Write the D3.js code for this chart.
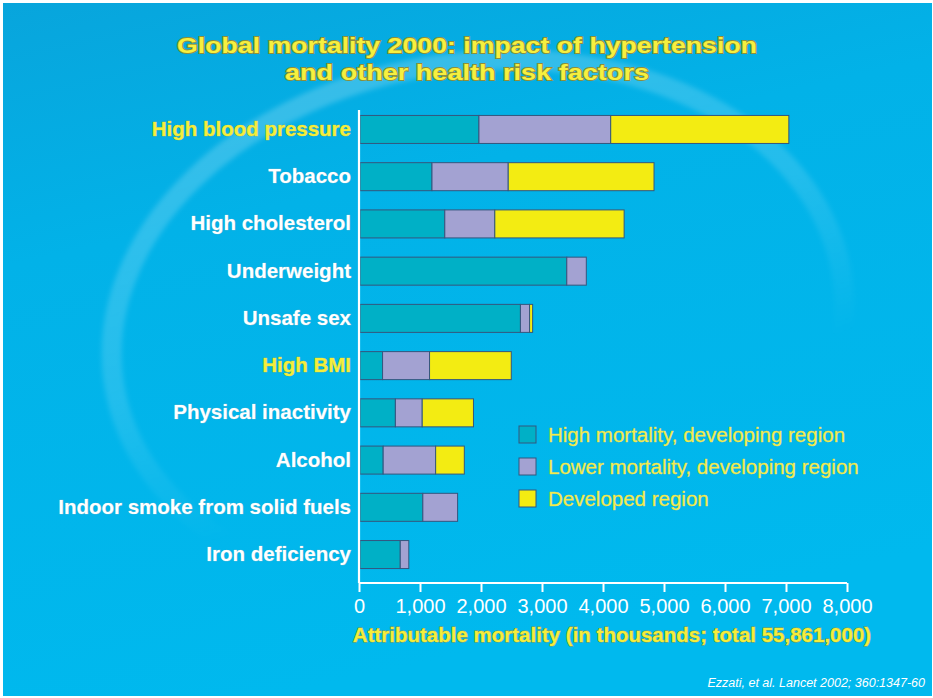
<!DOCTYPE html>
<html>
<head>
<meta charset="utf-8">
<script src="https://cdn.jsdelivr.net/npm/d3@7"></script>
<style>
  html, body { margin: 0; padding: 0; background: #ffffff; }
  svg { display: block; }
  text { font-family: "Liberation Sans", Arial, sans-serif; }
</style>
</head>
<body>
<svg id="chart" width="933" height="698"></svg>
<script>
// ---------- data ----------
const categories = [
  "High blood pressure", "Tobacco", "High cholesterol", "Underweight", "Unsafe sex",
  "High BMI", "Physical inactivity", "Alcohol", "Indoor smoke from solid fuels", "Iron deficiency"
];
const highMortalityDeveloping  = [1950, 1180, 1390, 3390, 2630, 370, 580, 380, 1030, 660];
const lowerMortalityDeveloping = [2160, 1250,  820,  320,  150, 770, 440, 860,  570, 140];
const developedRegion          = [2920, 2390, 2120,    0,   50, 1340, 840, 470,   0,   0];
const seriesNames = ["High mortality, developing region", "Lower mortality, developing region", "Developed region"];
const highlighted = ["High blood pressure", "High BMI"];
const xTicks = [0, 1000, 2000, 3000, 4000, 5000, 6000, 7000, 8000];
const titleLines = ["Global mortality 2000: impact of hypertension", "and other health risk factors"];
const xAxisTitle = "Attributable mortality (in thousands; total 55,861,000)";
const sourceNote = "Ezzati, et al. Lancet 2002; 360:1347-60";

// ---------- setup ----------
const W = 933, H = 698;
const svg = d3.select("#chart");
const defs = svg.append("defs");

const bg = defs.append("linearGradient").attr("id", "bg").attr("x1", 0).attr("y1", 0).attr("x2", 0.3).attr("y2", 1);
bg.append("stop").attr("offset", "0%").attr("stop-color", "#08a5dc");
bg.append("stop").attr("offset", "35%").attr("stop-color", "#02b2e8");
bg.append("stop").attr("offset", "100%").attr("stop-color", "#00b9ee");

const ringGrad = defs.append("linearGradient").attr("id", "ring").attr("x1", 0).attr("y1", 0).attr("x2", 0.25).attr("y2", 1);
ringGrad.append("stop").attr("offset", "0%").attr("stop-color", "#ffffff").attr("stop-opacity", 0.22);
ringGrad.append("stop").attr("offset", "50%").attr("stop-color", "#ffffff").attr("stop-opacity", 0.13);
ringGrad.append("stop").attr("offset", "80%").attr("stop-color", "#ffffff").attr("stop-opacity", 0.0);

const blur = defs.append("filter").attr("id", "blur").attr("x", "-10%").attr("y", "-10%").attr("width", "120%").attr("height", "120%");
blur.append("feGaussianBlur").attr("stdDeviation", 2.5);

// frame + background
svg.append("rect").attr("width", W).attr("height", H).attr("fill", "#ffffff");
svg.append("rect").attr("x", 3).attr("y", 3).attr("width", W - 4).attr("height", H - 5).attr("fill", "url(#bg)");

// decorative swoosh ring
svg.append("ellipse")
  .attr("cx", 478).attr("cy", 330).attr("rx", 368).attr("ry", 268)
  .attr("transform", "rotate(-8 478 330)")
  .attr("fill", "none").attr("stroke", "url(#ring)").attr("stroke-width", 20)
  .attr("filter", "url(#blur)");

// ---------- scales ----------
const x = d3.scaleLinear().domain([0, 8000]).range([359, 847]);
const y = d3.scaleBand().domain(categories).range([106, 578]).paddingInner(0.407).paddingOuter(0.2);
const colors = ["#00b0c6", "#a3a2d2", "#f3ec12"];

const rows = categories.map((c, i) => ({
  cat: c, s0: highMortalityDeveloping[i], s1: lowerMortalityDeveloping[i], s2: developedRegion[i]
}));
const stack = d3.stack().keys(["s0", "s1", "s2"])(rows);

// ---------- bars ----------
const gBars = svg.append("g");
stack.forEach((layer, li) => {
  gBars.selectAll(null).data(layer.filter(d => d[1] - d[0] > 0)).join("rect")
    .attr("x", d => x(d[0]) + 1)
    .attr("y", d => y(d.data.cat))
    .attr("width", d => Math.max(1, x(d[1]) - x(d[0])))
    .attr("height", y.bandwidth())
    .attr("fill", colors[li])
    .attr("stroke", "#34567e")
    .attr("stroke-width", 1);
});

// ---------- axes ----------
const axisG = svg.append("g").attr("transform", "translate(0,583)");
const xAxis = d3.axisBottom(x).tickValues(xTicks).tickSize(9).tickPadding(7)
  .tickFormat(d3.format(","));
axisG.call(xAxis);
axisG.select(".domain").attr("stroke", "#ffffff").attr("stroke-width", 2.2).attr("d", "M359,0H847");
axisG.selectAll(".tick line").attr("stroke", "#ffffff").attr("stroke-width", 2);
axisG.selectAll(".tick text").attr("fill", "#ffffff").attr("font-size", 20)
  .attr("font-family", "Liberation Sans, Arial, sans-serif");

const yAxisG = svg.append("g").attr("transform", "translate(359,0)");
yAxisG.call(d3.axisLeft(y).tickSize(0).tickPadding(8));
yAxisG.select(".domain").attr("stroke", "#ffffff").attr("stroke-width", 2.2).attr("d", "M0,110V583");
yAxisG.selectAll(".tick text")
  .attr("font-size", 20.5).attr("font-weight", "bold")
  .attr("font-family", "Liberation Sans, Arial, sans-serif")
  .attr("fill", d => highlighted.includes(d) ? "#f4ee3a" : "#ffffff")
  .attr("stroke", d => highlighted.includes(d) ? "#b9b43a" : "#7fb8cc")
  .attr("stroke-width", 0.6)
  .attr("paint-order", "stroke");

// ---------- title ----------
const titleWidths = [580, 364];
svg.append("g").selectAll("text").data(titleLines).join("text")
  .attr("x", 467).attr("y", (d, i) => 53 + i * 27)
  .attr("text-anchor", "middle")
  .attr("font-size", 22).attr("font-weight", "bold")
  .attr("textLength", (d, i) => titleWidths[i]).attr("lengthAdjust", "spacingAndGlyphs")
  .attr("fill", "#f6f03e")
  .attr("stroke", "#8f8f3a").attr("stroke-width", 1.8).attr("paint-order", "stroke")
  .text(d => d);

// ---------- x axis title ----------
svg.append("text")
  .attr("x", 612).attr("y", 642).attr("text-anchor", "middle")
  .attr("font-size", 20.5).attr("font-weight", "bold")
  .attr("fill", "#f4ee3a").attr("stroke", "#9c9a3c").attr("stroke-width", 0.9).attr("paint-order", "stroke")
  .text(xAxisTitle);

// ---------- legend ----------
const lg = svg.append("g").attr("transform", "translate(519,426)");
const li = lg.selectAll("g").data(seriesNames).join("g")
  .attr("transform", (d, i) => `translate(0,${i * 32})`);
li.append("rect").attr("width", 17).attr("height", 17)
  .attr("fill", (d, i) => colors[i]).attr("stroke", "#34567e").attr("stroke-width", 1);
li.append("text").attr("x", 29).attr("y", 16)
  .attr("font-size", 20.5).attr("fill", "#f2ec4c")
  .attr("stroke", "#c9c66a").attr("stroke-width", 0.4).attr("paint-order", "stroke")
  .text(d => d);

// ---------- source ----------
svg.append("text")
  .attr("x", 925).attr("y", 687).attr("text-anchor", "end")
  .attr("font-size", 12.5).attr("font-style", "italic").attr("fill", "#ffffff")
  .text(sourceNote);
</script>
</body>
</html>
